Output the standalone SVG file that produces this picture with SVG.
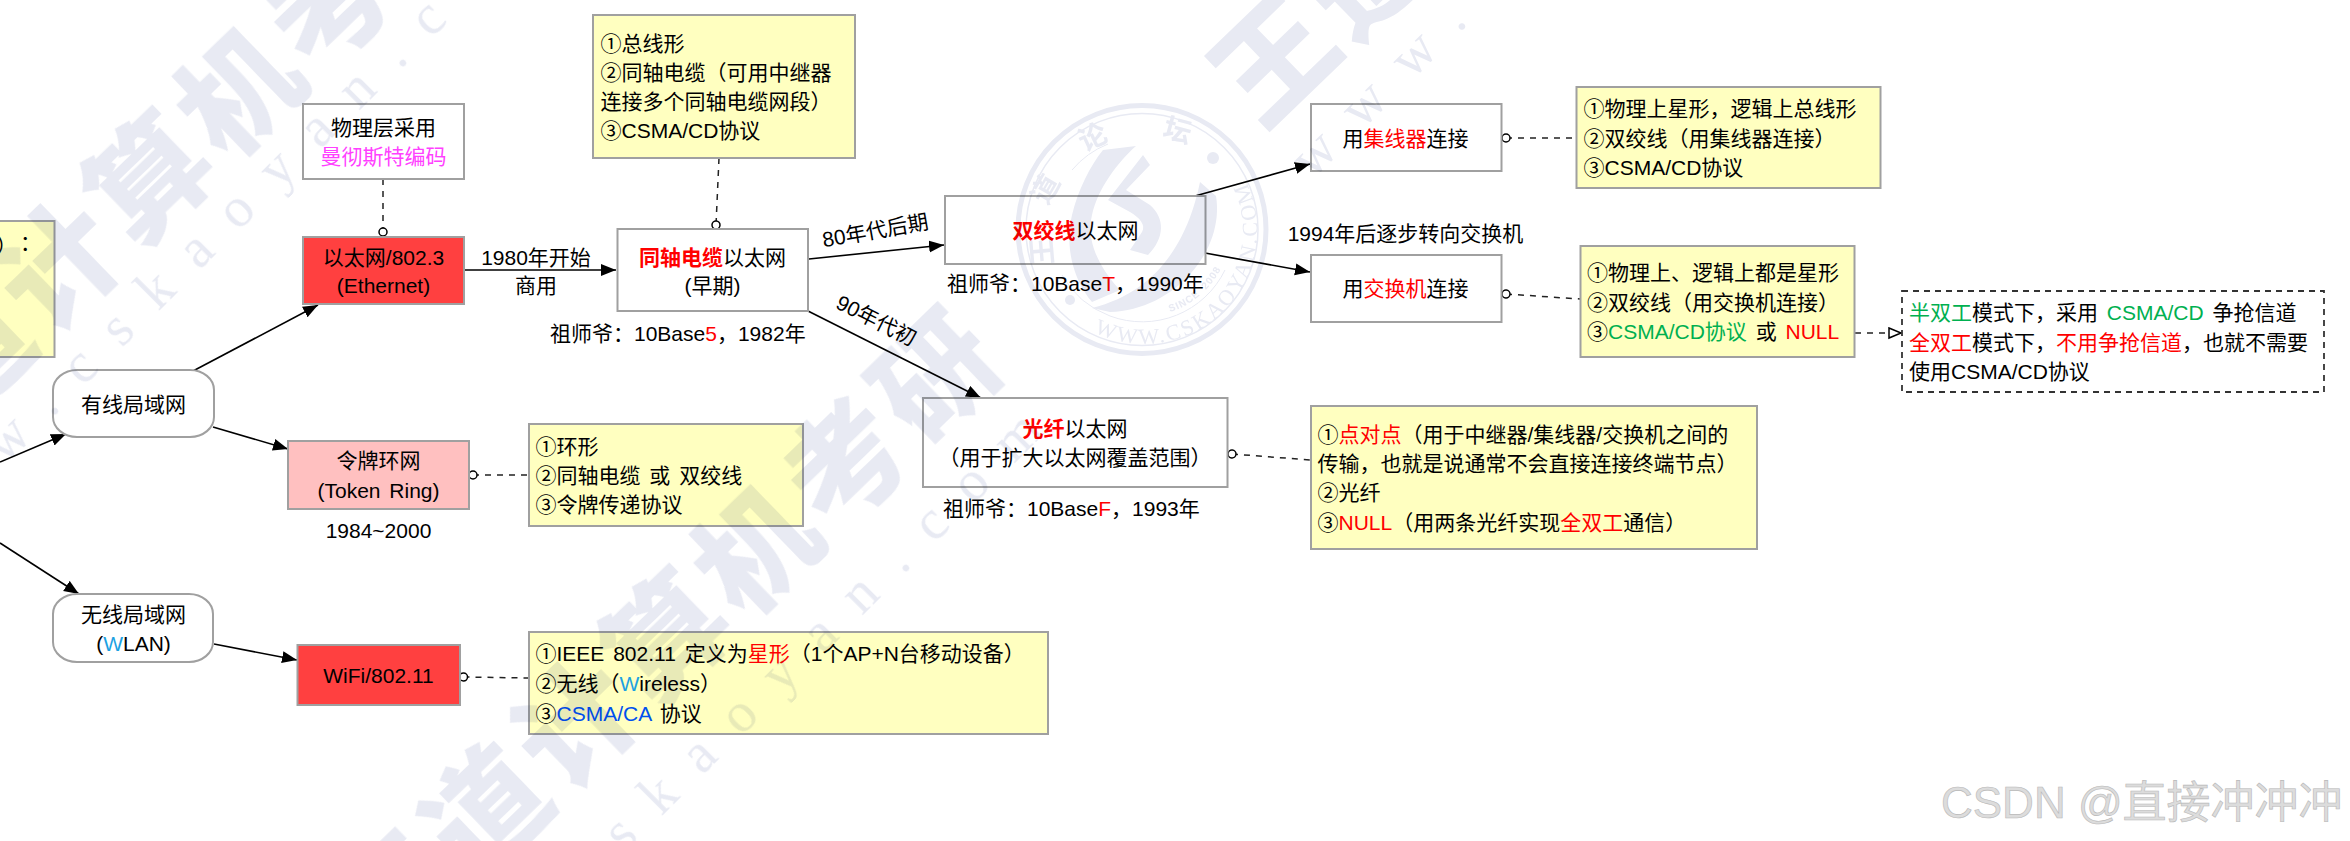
<svg xmlns="http://www.w3.org/2000/svg" width="2350" height="841" viewBox="0 0 2350 841">
<style>
text{font-family:"Liberation Sans","Noto Sans CJK SC",sans-serif;font-size:21px;fill:#000;word-spacing:3px}
.m{text-anchor:middle}
.r{fill:#f00}.g{fill:#00b050}.b{fill:#0050ef}.w{fill:#1ba1e2}.p{fill:#ff40ff}
.box{fill:#fff;stroke:#a0a0a0;stroke-width:2}
.note{fill:#ffffc0;stroke:#a0a0a0;stroke-width:2}
.red{fill:#ff4040;stroke:#a0a0a0;stroke-width:2}
.pink{fill:#ffc0c0;stroke:#a0a0a0;stroke-width:2}
.dbox{fill:#fff;stroke:#333;stroke-width:1.8;stroke-dasharray:6 5}
.a{fill:none;stroke:#000;stroke-width:1.6;marker-end:url(#arr)}
.d{fill:none;stroke:#222;stroke-width:1.5;stroke-dasharray:6 6}
.o{marker-start:url(#ovs)}
.oe{marker-end:url(#ove)}
.wm{mix-blend-mode:multiply}
.wm text{fill:#e8eaf3}
.big{font-family:"Noto Sans CJK SC",sans-serif;font-size:118px;font-weight:900;letter-spacing:7px}
.url{font-family:"Liberation Serif",serif;font-size:56px;letter-spacing:30px}
.sl{font-family:"Noto Sans CJK SC",sans-serif;font-size:28px;font-weight:700;text-anchor:middle}
.ssf{font-family:"Liberation Serif",serif;font-size:22px;letter-spacing:2.5px}
.ssg{font-family:"Liberation Sans",sans-serif;font-size:10px;font-weight:700;letter-spacing:1px}
.csdn{font-size:44px;fill:#dcdcdc;stroke:#b8b8b8;stroke-width:.6;word-spacing:0}
</style>
<defs>
<marker id="arr" markerUnits="userSpaceOnUse" markerWidth="16" markerHeight="14" refX="15" refY="6" orient="auto"><path d="M0,0L15,6L0,12z" fill="#000"/></marker>
<marker id="ovs" markerUnits="userSpaceOnUse" markerWidth="12" markerHeight="12" refX="6" refY="6" orient="auto"><circle cx="6" cy="6" r="4" fill="#fff" stroke="#000" stroke-width="1.5"/></marker>
<marker id="ove" markerUnits="userSpaceOnUse" markerWidth="12" markerHeight="12" refX="6" refY="6" orient="auto"><circle cx="6" cy="6" r="4" fill="#fff" stroke="#000" stroke-width="1.5"/></marker>
<marker id="tri" markerUnits="userSpaceOnUse" markerWidth="16" markerHeight="14" refX="14" refY="6" orient="auto"><path d="M1,1L13,6L1,11z" fill="#fff" stroke="#000" stroke-width="1.5"/></marker>
<path id="arcUrl" d="M1094,332A113,113 0 0 0 1248,186"/>
<path id="arcSince" d="M1170,312A87,87 0 0 0 1224,262"/>
</defs>
<rect width="2350" height="841" fill="#fff"/>

<g id="connectors">
<path class="a" d="M0,462L66,434"/>
<path class="a" d="M0,543L79,594"/>
<path class="a" d="M193,371L318,305"/>
<path class="a" d="M213,427L288,449"/>
<path class="a" d="M214,644L297,660"/>
<path class="a" d="M464,270L616,270"/>
<path class="a" d="M809,259L944,245"/>
<path class="a" d="M808,311L981,398"/>
<path class="a" d="M1195,196L1310,164"/>
<path class="a" d="M1205,253L1310,272"/>
<path class="d oe" d="M383,179L383,232"/>
<path class="d oe" d="M719,158L716,225"/>
<path class="d o" d="M473,475L529,475"/>
<path class="d o" d="M463.500,677L529,678"/>
<path class="d o" d="M1506,138L1576,138"/>
<path class="d o" d="M1506,294L1580,299"/>
<path class="d o" d="M1232,454L1311,460"/>
<path class="d" style="marker-end:url(#tri)" d="M1855,333L1902,333"/>
</g>

<g id="note-left"><rect class="note" x="-60" y="221" width="114.500" height="136"/><text x="-4" y="253">）</text><text x="20" y="250">：</text></g>
<g id="wired"><rect class="box" x="53" y="370" width="161" height="67" rx="24" ry="20"/><text class="m" x="133.500" y="412">有线局域网</text></g>
<g id="wlan"><rect class="box" x="53" y="594" width="160" height="68" rx="24" ry="20"/><text class="m" x="133.500" y="622">无线局域网</text><text class="m" x="133.500" y="651">(<tspan class="w">W</tspan>LAN)</text></g>
<g id="phys"><rect class="box" x="303" y="104" width="161" height="75"/><text class="m" x="383.500" y="135">物理层采用</text><text class="m p" x="383.500" y="164">曼彻斯特编码</text></g>
<g id="ethernet"><rect class="red" x="303" y="237" width="161" height="67"/><text class="m" x="383.500" y="264.500">以太网/802.3</text><text class="m" x="383.500" y="293">(Ethernet)</text></g>
<g id="token"><rect class="pink" x="288" y="441" width="181" height="68"/><text class="m" x="378.500" y="468">令牌环网</text><text class="m" x="378.500" y="498">(Token Ring)</text><text class="m" x="378.500" y="538">1984~2000</text></g>
<g id="wifi"><rect class="red" x="297.500" y="645" width="162.500" height="60"/><text class="m" x="378.500" y="683">WiFi/802.11</text></g>
<g id="note-token"><rect class="note" x="529" y="424" width="274" height="102"/><text x="535.500" y="453.500">①环形</text><text x="535.500" y="482.500">②同轴电缆 或 双绞线</text><text x="535.500" y="511.500">③令牌传递协议</text></g>
<g id="note-wifi"><rect class="note" x="529" y="632" width="519" height="102"/><text x="535.500" y="661">①IEEE 802.11 定义为<tspan class="r">星形</tspan>（1个AP+N台移动设备）</text><text x="535.500" y="691">②无线（<tspan class="w">W</tspan>ireless）</text><text x="535.500" y="721">③<tspan class="b">CSMA/CA</tspan> 协议</text></g>
<g id="note-coax"><rect class="note" x="593" y="15" width="262" height="143"/><text x="600.500" y="51">①总线形</text><text x="600.500" y="80">②同轴电缆（可用中继器</text><text x="600.500" y="109">连接多个同轴电缆网段）</text><text x="600.500" y="138">③CSMA/CD协议</text></g>
<g id="coax"><rect class="box" x="617.500" y="229" width="190.500" height="82"/><text class="m" x="712.500" y="264.500"><tspan class="r" font-weight="700">同轴电缆</tspan>以太网</text><text class="m" x="712.500" y="293">(早期)</text><text x="550" y="341">祖师爷：10Base<tspan class="r">5</tspan>，1982年</text></g>
<g id="twisted"><rect class="box" x="945" y="196" width="260.500" height="68"/><text class="m" x="1075.500" y="238"><tspan class="r" font-weight="700">双绞线</tspan>以太网</text><text x="947" y="290.500">祖师爷：10Base<tspan class="r">T</tspan>，1990年</text></g>
<g id="fiber"><rect class="box" x="923" y="398" width="304.500" height="89"/><text class="m" x="1075" y="435.500"><tspan class="r" font-weight="700">光纤</tspan>以太网</text><text class="m" x="1075" y="464.500">（用于扩大以太网覆盖范围）</text><text x="943" y="516">祖师爷：10Base<tspan class="r">F</tspan>，1993年</text></g>
<g id="hub"><rect class="box" x="1311" y="104" width="190.500" height="67"/><text class="m" x="1405.500" y="146">用<tspan class="r">集线器</tspan>连接</text></g>
<g id="switch"><rect class="box" x="1311" y="255" width="190.500" height="67"/><text class="m" x="1405.500" y="296">用<tspan class="r">交换机</tspan>连接</text></g>
<g id="note-hub"><rect class="note" x="1576.500" y="87" width="304" height="101"/><text x="1583.500" y="116">①物理上星形，逻辑上总线形</text><text x="1583.500" y="146">②双绞线（用集线器连接）</text><text x="1583.500" y="175">③CSMA/CD协议</text></g>
<g id="note-switch"><rect class="note" x="1580.500" y="246" width="274" height="111"/><text x="1587" y="279.500">①物理上、逻辑上都是星形</text><text x="1587" y="309.500">②双绞线（用交换机连接）</text><text x="1587" y="339">③<tspan class="g">CSMA/CD协议</tspan> 或 <tspan class="r">NULL</tspan></text></g>
<g id="note-duplex"><rect class="dbox" x="1902" y="291" width="422" height="101"/><text x="1909" y="319.500"><tspan class="g">半双工</tspan>模式下，采用 <tspan class="g">CSMA/CD</tspan> 争抢信道</text><text x="1909" y="350"><tspan class="r">全双工</tspan>模式下，<tspan class="r">不用争抢信道</tspan>，也就不需要</text><text x="1909" y="379">使用CSMA/CD协议</text></g>
<g id="note-fiber"><rect class="note" x="1311" y="406" width="446" height="143"/><text x="1317.500" y="441.500">①<tspan class="r">点对点</tspan>（用于中继器/集线器/交换机之间的</text><text x="1317.500" y="470.500">传输，也就是说通常不会直接连接终端节点）</text><text x="1317.500" y="499.500">②光纤</text><text x="1317.500" y="529.500">③<tspan class="r">NULL</tspan>（用两条光纤实现<tspan class="r">全双工</tspan>通信）</text></g>

<g id="edge-labels">
<text class="m" x="536" y="264.500">1980年开始</text><text class="m" x="536" y="293">商用</text>
<text class="m" transform="translate(876.500,238) rotate(-10)">80年代后期</text>
<text class="m" transform="translate(873,327) rotate(27)">90年代初</text>
<text class="m" x="1405.500" y="241">1994年后逐步转向交换机</text>
</g>

<g id="watermark" class="wm">
<text class="big" transform="translate(-120,440) rotate(-44)" x="-59" y="42">王道计算机考研</text>
<text class="big" transform="translate(397,898) rotate(-44)" x="-59" y="42">王道计算机考研</text>
<text class="big" transform="translate(1275,60) rotate(-44)" x="-59" y="42">王道计算机考研</text>
<text class="url" transform="translate(-95,565) rotate(-45)">www.cskaoyan.com</text>
<text class="url" transform="translate(408,1070) rotate(-45)">www.cskaoyan.com</text>
<text class="url" transform="translate(1312,180) rotate(-45)">www.cskaoyan.com</text>
<g fill="none" stroke="#e8eaf3">
<circle cx="1142" cy="229.500" r="124" stroke-width="5"/>
<circle cx="1142" cy="229.500" r="116" stroke-width="1.500"/>
<path d="M1072,170A92,92 0 0 1 1108,144" stroke-width="1"/>
<path d="M1062,275A92,92 0 0 0 1110,316A92,92 0 0 0 1225,270" stroke-width="1"/>
</g>
<g fill="#e8eaf3">
<circle cx="1213" cy="158" r="6"/>
<circle cx="1070" cy="300" r="5"/>
<path d="M1103,150L1136,146C1118,162 1098,188 1092,215C1086,240 1098,266 1120,290L1092,302C1072,278 1065,245 1072,215C1078,190 1090,166 1103,150Z"/>
<path d="M1143,155L1150,165L1126,190L1150,205C1165,218 1165,238 1148,255L1130,250L1142,232C1146,225 1140,218 1130,212L1108,200Z"/>
<path d="M1200,182C1190,230 1165,290 1092,308L1110,312C1175,310 1225,250 1216,196Z"/>
</g>
<text class="sl" transform="translate(1097,146) rotate(-25)">论</text>
<text class="sl" transform="translate(1175,140) rotate(15)">坛</text>
<text class="sl" transform="translate(1054,194) rotate(-60)">道</text>
<text class="sl" transform="translate(1052,250) rotate(-95)">王</text>
<text class="ssf"><textPath href="#arcUrl">WWW.CSKAOYAN.COM</textPath></text>
<text class="ssg"><textPath href="#arcSince">SINCE 2008</textPath></text>
</g>

<text class="csdn" x="1941" y="818">CSDN @直接冲冲冲</text>
</svg>
